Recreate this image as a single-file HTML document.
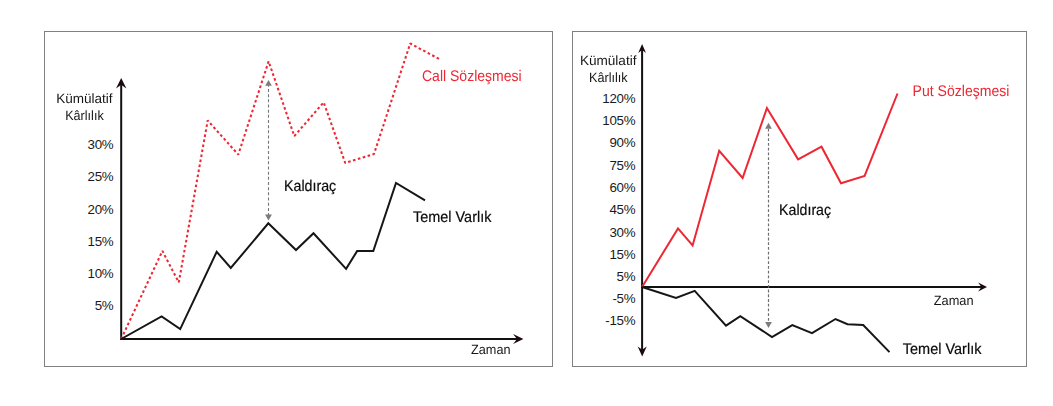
<!DOCTYPE html>
<html lang="tr">
<head>
<meta charset="utf-8">
<title>Kaldıraç</title>
<style>
html,body{margin:0;padding:0;background:#fff;}
body{width:1053px;height:406px;overflow:hidden;font-family:"Liberation Sans",sans-serif;}
svg{display:block;}
.ov{position:absolute;left:0;top:0;will-change:transform;}
.seg{font-family:"Liberation Sans",sans-serif;fill:#0c0c0c;stroke:#0c0c0c;stroke-width:0.2;text-rendering:geometricPrecision;}
.num{font-family:"Liberation Sans",sans-serif;font-size:13.33px;letter-spacing:-0.3px;fill:#1a1a1a;text-anchor:end;}
.red{fill:#ed2733;stroke:none;}
.sm{stroke:none;fill:#161616;}
</style>
</head>
<body>
<svg width="1053" height="406" viewBox="0 0 1053 406">
<rect x="0" y="0" width="1053" height="406" fill="#fff"/>
<!-- frames -->
<rect x="44.5" y="31.5" width="508" height="335" fill="none" stroke="#808080" stroke-width="1"/>
<rect x="572.5" y="31.5" width="454" height="335" fill="none" stroke="#808080" stroke-width="1"/>

<!-- LEFT CHART -->
<g id="left">
<!-- axes -->
<line x1="121.2" y1="84" x2="121.2" y2="340" stroke="#111" stroke-width="2"/>
<line x1="120.2" y1="339" x2="517.5" y2="339" stroke="#111" stroke-width="2"/>
<polygon points="121.2,77.9 126.4,88.4 121.2,84.8 116,88.4" fill="#1a0a0c"/>
<polygon points="523.4,339 513.1,343.9 517,339 513.1,334.1" fill="#1a0a0c"/>
<!-- series -->
<polyline points="121.2,339 162.4,250.9 178.8,282.4 207.7,120.5 238.3,154.6 268.6,61.3 294.3,136.1 323.7,102.3 345.2,162.9 374,154 410.2,43.5 441.2,60.1" fill="none" stroke="#ed2733" stroke-width="2.05" stroke-dasharray="2.6 2.5" stroke-linejoin="bevel"/>
<polyline points="121.2,339 161.6,316.4 180.2,329.1 216.7,251.8 230.8,268 268.3,223.3 296,250 313.5,233.3 346.1,268.9 357.1,251.1 373.3,251.1 396,182.9 425,200.4" fill="none" stroke="#161616" stroke-width="2" stroke-linejoin="miter"/>
<!-- leverage arrow -->
<line x1="268.5" y1="83.8" x2="268.5" y2="215" stroke="#767676" stroke-width="1.1" stroke-dasharray="3 2.17"/>
<polygon points="268.5,79.9 271.9,85.8 265.1,85.8" fill="#7c7c7c"/>
<polygon points="268.5,220.6 271.9,214.6 265.1,214.6" fill="#7c7c7c"/>
<!-- labels -->
<text class="num" x="113.3" y="149">30%</text>
<text class="num" x="113.3" y="181">25%</text>
<text class="num" x="113.3" y="214">20%</text>
<text class="num" x="113.3" y="246">15%</text>
<text class="num" x="113.3" y="278">10%</text>
<text class="num" x="113.3" y="310">5%</text>
</g>

<!-- RIGHT CHART -->
<g id="right">
<line x1="642.1" y1="49" x2="642.1" y2="350" stroke="#111" stroke-width="2"/>
<line x1="641.1" y1="287" x2="982" y2="287" stroke="#111" stroke-width="2"/>
<polygon points="642.1,44.1 646,53 642.1,50 638.2,53" fill="#1a0a0c"/>
<polygon points="642.2,356.4 646.7,346.5 642.2,349.8 637.7,346.5" fill="#1a0a0c"/>
<polygon points="987,287 978.1,291.4 981.4,287 978.1,282.6" fill="#1a0a0c"/>
<!-- series -->
<polyline points="642.1,287 678,228.4 692.6,245.5 719.2,150.8 742.6,178 766.9,108.1 798.1,159.3 821.5,146.7 841,183.3 864.6,175.9 897.5,93.5" fill="none" stroke="#ed2733" stroke-width="2" stroke-linejoin="miter"/>
<polyline points="642.1,287 676,298 694.7,290.9 726,325.6 740.3,316.1 772,337 792.3,325.1 812,333.2 835.5,319 847.5,324.2 863.2,325.1 889.5,352.1" fill="none" stroke="#161616" stroke-width="2" stroke-linejoin="miter"/>
<!-- leverage arrow -->
<line x1="768.5" y1="128.8" x2="768.5" y2="322" stroke="#6e6e6e" stroke-width="1.2" stroke-dasharray="2.8 1.93"/>
<polygon points="768.5,122.8 771.9,128.7 765.1,128.7" fill="#7c7c7c"/>
<polygon points="768.5,327.9 771.9,322 765.1,322" fill="#7c7c7c"/>
<!-- labels -->
<text class="num" x="635.2" y="103">120%</text>
<text class="num" x="635.2" y="125">105%</text>
<text class="num" x="635.2" y="147">90%</text>
<text class="num" x="635.2" y="170">75%</text>
<text class="num" x="635.2" y="192">60%</text>
<text class="num" x="635.2" y="214">45%</text>
<text class="num" x="635.2" y="237">30%</text>
<text class="num" x="635.2" y="259">15%</text>
<text class="num" x="635.2" y="281">5%</text>
<text class="num" x="635.2" y="303">-5%</text>
<text class="num" x="635.2" y="325">-15%</text>
</g>
</svg>
<svg class="ov" width="1053" height="406" viewBox="0 0 1053 406">
<text class="seg sm" x="56.2" y="102.5" font-size="13.4" textLength="56.4" lengthAdjust="spacingAndGlyphs">Kümülatif</text>
<text class="seg sm" x="65.2" y="120" font-size="13.4" textLength="38.5" lengthAdjust="spacingAndGlyphs">Kârlılık</text>
<text class="seg sm" x="471" y="353.8" font-size="13.4" textLength="39.5" lengthAdjust="spacingAndGlyphs">Zaman</text>
<text class="seg" x="284" y="190.5" font-size="15.4" textLength="52.2" lengthAdjust="spacingAndGlyphs">Kaldıraç</text>
<text class="seg" x="413" y="221.7" font-size="15.4" textLength="78.4" lengthAdjust="spacingAndGlyphs">Temel Varlık</text>
<text class="seg red" x="422" y="80.6" font-size="15.4" textLength="99.6" lengthAdjust="spacingAndGlyphs">Call Sözleşmesi</text>
<text class="seg sm" x="579.9" y="64.6" font-size="13.4" textLength="56.6" lengthAdjust="spacingAndGlyphs">Kümülatif</text>
<text class="seg sm" x="589" y="81.7" font-size="13.4" textLength="38.7" lengthAdjust="spacingAndGlyphs">Kârlılık</text>
<text class="seg sm" x="933.8" y="304.7" font-size="13.4" textLength="39.8" lengthAdjust="spacingAndGlyphs">Zaman</text>
<text class="seg" x="779.1" y="215.3" font-size="15.4" textLength="52" lengthAdjust="spacingAndGlyphs">Kaldıraç</text>
<text class="seg" x="902.8" y="353.7" font-size="15.4" textLength="78.6" lengthAdjust="spacingAndGlyphs">Temel Varlık</text>
<text class="seg red" x="912.6" y="95.5" font-size="15.4" textLength="96.8" lengthAdjust="spacingAndGlyphs">Put Sözleşmesi</text>
</svg>
</body>
</html>
